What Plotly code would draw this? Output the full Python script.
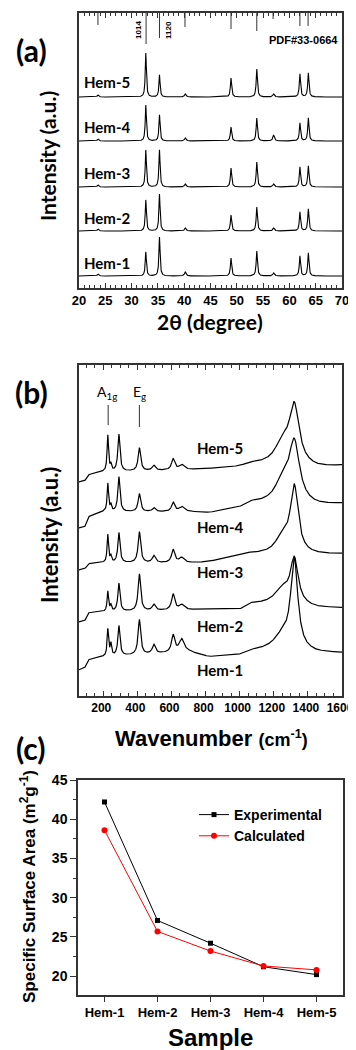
import numpy as np
import plotly.graph_objects as go

SAMPLES = ["Hem-1", "Hem-2", "Hem-3", "Hem-4", "Hem-5"]

# ---------------- (a) XRD ----------------
XRD_PEAK_POS = [23.6, 32.7, 35.3, 40.2, 48.9, 53.8, 57.0, 62.0, 63.6]
XRD_PEAK_FWHM = [0.35, 0.26, 0.26, 0.35, 0.28, 0.28, 0.35, 0.28, 0.28]
XRD_HEIGHTS = {
    "Hem-1": [2, 24, 39, 4, 18, 25, 3, 20, 23],
    "Hem-2": [2, 31, 37, 3, 16, 24, 3, 19, 22],
    "Hem-3": [2, 37, 37, 3, 19, 25, 3, 20, 21],
    "Hem-4": [2, 36, 26, 3, 14, 23, 6, 18, 23],
    "Hem-5": [2, 44, 22, 3, 19, 28, 3, 23, 24],
}
XRD_OFFSETS = {"Hem-1": 12, "Hem-2": 57, "Hem-3": 101, "Hem-4": 147, "Hem-5": 191}
XRD_LABEL_Y = {"Hem-1": 25, "Hem-2": 70, "Hem-3": 115, "Hem-4": 161, "Hem-5": 206}
PDF_POS = [23.6, 32.75, 35.3, 40.15, 48.9, 53.8, 56.9, 62.0, 63.55]
PDF_LEN = [12, 31, 25, 14, 16, 18, 6, 13, 13]
XRD_TICKS = [20, 25, 30, 35, 40, 45, 50, 55, 60, 65, 70]

# ---------------- (b) Raman ----------------
RAMAN_POS = [227, 245, 292, 412, 497, 610, 660, 1320, 1250]
RAMAN_FWHM = {
    "Hem-1": [10, 10, 15, 18, 22, 22, 35, 50, 100],
    "Hem-2": [10, 10, 15, 18, 22, 22, 35, 55, 100],
    "Hem-3": [10, 10, 15, 18, 22, 22, 35, 55, 100],
    "Hem-4": [10, 10, 15, 18, 22, 22, 35, 75, 100],
    "Hem-5": [10, 10, 15, 18, 22, 22, 35, 70, 100],
}
RAMAN_HEIGHTS = {
    "Hem-1": [27, 12, 30, 35, 9, 17, 13, 90, 12],
    "Hem-2": [20, 6, 28, 37, 6, 16, 5, 45, 14],
    "Hem-3": [28, 6, 30, 31, 7, 13, 5, 66, 16],
    "Hem-4": [28, 6, 35, 18, 4, 9, 5, 60, 20],
    "Hem-5": [36, 6, 37, 23, 5, 11, 5, 58, 20],
}
RAMAN_BL_W = [58, 92, 112, 200, 700, 820, 1000, 1060, 1200, 1450, 1600]
RAMAN_BASELINE = {
    "Hem-1": [26, 28, 36, 39, 44, 39, 41, 45, 47, 43, 43],
    "Hem-2": [74, 75, 83, 84, 86, 87, 86, 92, 92, 88, 88],
    "Hem-3": [126, 127, 132, 133, 133, 134, 141, 142, 141, 141, 142],
    "Hem-4": [168, 169, 179, 184, 184, 183, 188, 193, 192, 190, 192],
    "Hem-5": [214, 215, 221, 224, 226, 227, 229, 232, 231, 228, 230],
}
RAMAN_LABEL_Y = {"Hem-1": 26, "Hem-2": 70, "Hem-3": 124, "Hem-4": 169, "Hem-5": 248}
RAMAN_TICKS = [200, 400, 600, 800, 1000, 1200, 1400, 1600]

# ---------------- (c) Surface area ----------------
SSA_EXP = [42.2, 27.1, 24.2, 21.2, 20.2]
SSA_CALC = [38.6, 25.7, 23.2, 21.3, 20.8]
SSA_TICKS = [20, 25, 30, 35, 40, 45]


def lor(x, x0, fwhm):
    return 1.0 / (1.0 + ((x - x0) / (fwhm / 2.0)) ** 2)


# the page body has an 8px margin, so the figure is 8px smaller and all
# page-pixel positions are measured relative to that offset
OFF = 8
W, H = 356 - OFF, 1050 - OFF


def px_x(p):
    return (p - OFF) / W


def px_y(p):
    return 1 - (p - OFF) / H


fig = go.Figure()

# XRD traces
tt = np.arange(20, 70.0001, 0.02)
for s in SAMPLES:
    y = np.full_like(tt, XRD_OFFSETS[s], dtype=float)
    for p, f, h in zip(XRD_PEAK_POS, XRD_PEAK_FWHM, XRD_HEIGHTS[s]):
        y = y + h * lor(tt, p, f)
    fig.add_trace(go.Scatter(x=tt, y=y, mode="lines", line=dict(color="black", width=1.1),
                             xaxis="x", yaxis="y", showlegend=False, hoverinfo="skip"))

# PDF reference lines
px_, py_ = [], []
for p, l in zip(PDF_POS, PDF_LEN):
    px_ += [p, p, None]
    py_ += [275, 275 - l, None]
fig.add_trace(go.Scatter(x=px_, y=py_, mode="lines", line=dict(color="#333", width=1),
                         xaxis="x", yaxis="y", showlegend=False, hoverinfo="skip"))

# Raman traces
ww = np.arange(58, 1600.5, 1.0)
for s in SAMPLES:
    y = np.interp(ww, RAMAN_BL_W, RAMAN_BASELINE[s])
    for p, f, h in zip(RAMAN_POS, RAMAN_FWHM[s], RAMAN_HEIGHTS[s]):
        y = y + h * lor(ww, p, f)
    fig.add_trace(go.Scatter(x=ww, y=y, mode="lines", line=dict(color="black", width=1.2),
                             xaxis="x2", yaxis="y2", showlegend=False, hoverinfo="skip"))

# A1g / Eg marker lines
fig.add_trace(go.Scatter(x=[229, 229, None, 412, 412], y=[291, 271, None, 291, 269], mode="lines",
                         line=dict(color="#333", width=1), xaxis="x2", yaxis="y2",
                         showlegend=False, hoverinfo="skip"))

# Surface area
xi = list(range(len(SAMPLES)))
fig.add_trace(go.Scatter(x=xi, y=SSA_EXP, mode="lines+markers", name="Experimental",
                         line=dict(color="black", width=1), marker=dict(symbol="square", size=5, color="black"),
                         xaxis="x3", yaxis="y3"))
fig.add_trace(go.Scatter(x=xi, y=SSA_CALC, mode="lines+markers", name="Calculated",
                         line=dict(color="#ff0000", width=1), marker=dict(symbol="circle", size=6, color="#ff0000"),
                         xaxis="x3", yaxis="y3"))

BOLD_ARIAL = dict(family="Liberation Sans, Arial, sans-serif", color="black", weight="bold")
XD = [px_x(79), px_x(342)]

common = dict(showgrid=False, zeroline=False, automargin=False, showline=True,
              linecolor="#333", linewidth=1.5, ticklabeloverflow="allow")

fig.update_layout(
    template="none",
    width=W, height=H, autosize=False,
    margin=dict(l=0, r=0, t=0, b=0, pad=0),
    paper_bgcolor="white", plot_bgcolor="white",
    xaxis=dict(domain=XD, anchor="y", range=[20, 70], tickvals=XRD_TICKS,
               ticks="inside", ticklen=5, tickwidth=1, tickcolor="#333",
               minor=dict(dtick=1, ticks="inside", ticklen=3, tickcolor="#333"),
               mirror="allticks", tickfont=dict(size=13, **BOLD_ARIAL), **common),
    yaxis=dict(domain=[px_y(288), px_y(13)], anchor="x", range=[0, 275],
               showticklabels=False, ticks="", mirror=True, **common),
    xaxis2=dict(domain=XD, anchor="y2", range=[58, 1600], tickvals=RAMAN_TICKS,
                ticks="inside", ticklen=5, tickwidth=1, tickcolor="#333",
                minor=dict(dtick=50, ticks="inside", ticklen=3, tickcolor="#333"),
                mirror="allticks", ticklabelshift=-2,
                tickfont=dict(size=12, **BOLD_ARIAL), **common),
    yaxis2=dict(domain=[px_y(696), px_y(365)], anchor="x2", range=[0, 331],
                showticklabels=False, ticks="", mirror=True, **common),
    xaxis3=dict(domain=[px_x(78), px_x(343)], anchor="y3", range=[-0.5, 4.5],
                tickvals=xi, ticktext=SAMPLES, ticks="outside", ticklen=5, tickcolor="#333",
                mirror=True, tickfont=dict(size=13, **BOLD_ARIAL), **common),
    yaxis3=dict(domain=[px_y(995), px_y(780)], anchor="x3", range=[17.6, 45],
                tickvals=SSA_TICKS, ticks="outside", ticklen=6, tickcolor="#333",
                minor=dict(dtick=2.5, ticks="outside", ticklen=3, tickcolor="#333"),
                mirror=True, tickfont=dict(size=14, **BOLD_ARIAL), **common),
    legend=dict(x=px_x(194), y=px_y(799), xanchor="left", yanchor="top",
                bgcolor="rgba(0,0,0,0)", font=dict(size=14, **BOLD_ARIAL),
                tracegroupgap=0, itemwidth=30),
    showlegend=True,
)

LATO = dict(family="Lato, Liberation Sans, sans-serif", color="black", weight="bold")
ann = []


def A(**kw):
    d = dict(showarrow=False, xanchor="center", yanchor="middle")
    d.update(kw)
    ann.append(d)


# panel labels
for txt, yc in [("(a)", 50), ("(b)", 392), ("(c)", 748)]:
    A(text=txt, x=px_x(31), y=px_y(yc), xref="paper", yref="paper", font=dict(size=30, **LATO))
# axis titles
A(text="Intensity (a.u.)", x=px_x(48), y=px_y(156), xref="paper", yref="paper",
  textangle=-90, font=dict(size=21, **LATO))
A(text="2θ (degree)", x=px_x(210), y=px_y(322), xref="paper", yref="paper", font=dict(size=21, **LATO))
A(text="Intensity (a.u.)", x=px_x(49), y=px_y(535), xref="paper", yref="paper",
  textangle=-90, font=dict(size=22, **LATO))
A(text="Wavenumber <span style='font-size:18px'>(cm<sup>-1</sup>)</span>",
  x=px_x(211), y=px_y(738), xref="paper", yref="paper", font=dict(size=22, **BOLD_ARIAL))
A(text="Specific Surface Area (m<sup>2</sup>g<sup>-1</sup>)", x=px_x(28), y=px_y(887),
  xref="paper", yref="paper", textangle=-90, font=dict(size=17, **BOLD_ARIAL))
A(text="Sample", x=px_x(210), y=px_y(1037), xref="paper", yref="paper", font=dict(size=24, **BOLD_ARIAL))
# XRD labels
for s in SAMPLES:
    A(text=s, x=20.6, y=XRD_LABEL_Y[s], xref="x", yref="y", xanchor="left", font=dict(size=15, **LATO))
A(text="1014", x=31.2, y=258, xref="x", yref="y", textangle=-90, font=dict(size=8, **BOLD_ARIAL))
A(text="1120", x=36.9, y=258, xref="x", yref="y", textangle=-90, font=dict(size=8, **BOLD_ARIAL))
A(text="PDF#33-0664", x=69.7, y=248, xref="x", yref="y", xanchor="right", font=dict(size=11, **BOLD_ARIAL))
# Raman labels
for s in SAMPLES:
    A(text=s, x=885, y=RAMAN_LABEL_Y[s], xref="x2", yref="y2", font=dict(size=15, **LATO))
A(text="A<sub>1g</sub>", x=224, y=304, xref="x2", yref="y2",
  font=dict(size=14, family="Lato, sans-serif", color="black"))
A(text="E<sub>g</sub>", x=415, y=304, xref="x2", yref="y2",
  font=dict(size=14, family="Lato, sans-serif", color="black"))

fig.update_layout(annotations=ann)
fig.write_html("out.html")
